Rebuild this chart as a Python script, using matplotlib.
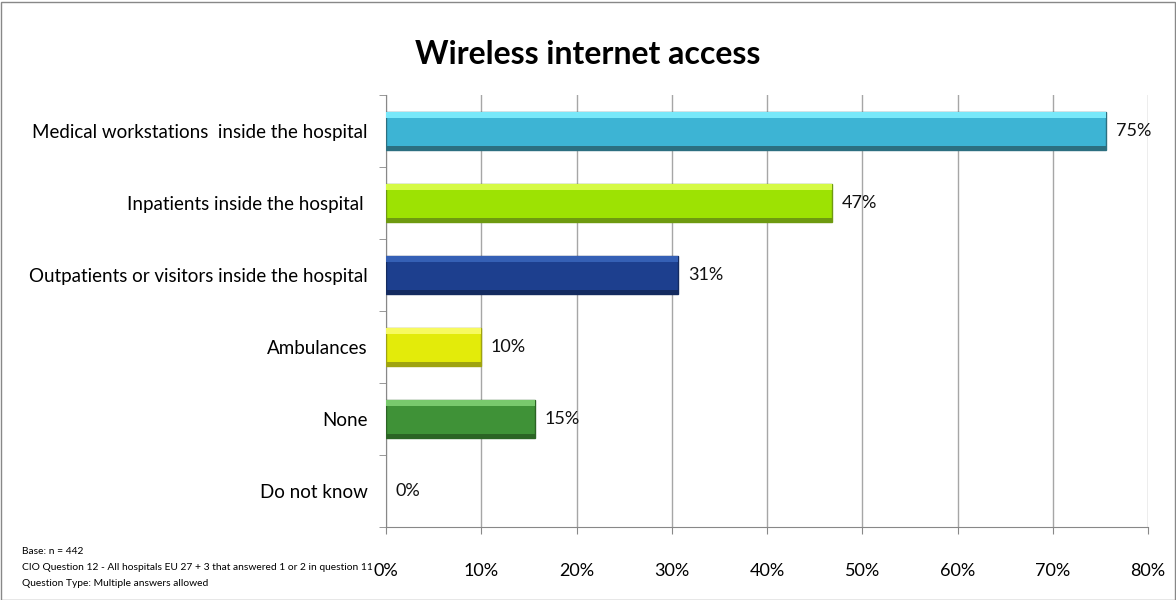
import numpy as np
import matplotlib.pyplot as plt
from matplotlib.patches import Rectangle

categories = ['Medical workstations  inside the hospital',
              'Inpatients inside the hospital ',
              'Outpatients or visitors inside the hospital',
              'Ambulances',
              'None',
              'Do not know']
values = [75.6, 46.8, 30.7, 10.0, 15.6, 0.0]
value_labels = ['75%', '47%', '31%', '10%', '15%', '0%']
colors = ['#3DB4D4', '#9DE203', '#1D3F8E', '#E3EB0A', '#3F9237', '#888888']
tops = ['#78E8FA', '#D5FA45', '#3560B5', '#F7FA60', '#78C96C', '#aaaaaa']
bottoms = ['#2C6F80', '#6E9A10', '#142B60', '#9FA310', '#2B6424', '#555555']
xticks = np.arange(0, 81, 10)

plt.rcParams['font.family'] = ['Lato', 'DejaVu Sans']

fig = plt.figure(figsize=(11.76, 6.0), dpi=100)
ax = fig.add_axes([386 / 1176, 1 - 527 / 600, (1148 - 386) / 1176, (527 - 95) / 600])

y = np.arange(len(categories))
h = 0.53
edges = [b if v > 0 else 'none' for v, b in zip(values, bottoms)]
ax.barh(y, values, height=h, color=colors, edgecolor=edges, linewidth=1, zorder=3)
# lighter top strip and darker bottom strip to mimic the bevel
ax.barh(y - h / 2 + 0.04, values, height=0.08, color=tops, linewidth=0, zorder=4)
ax.barh(y + h / 2 - 0.03, values, height=0.06, color=bottoms, linewidth=0, zorder=4)

for yi, v, lab in zip(y, values, value_labels):
    ax.text(v + 1.0, yi, lab, va='center', ha='left', fontsize=13, color='#111111')

ax.set_xlim(0, 80)
ax.set_ylim(len(categories) - 0.5, -0.5)
ax.set_xticks(xticks)
ax.set_xticklabels(['%d%%' % t for t in xticks], fontsize=13)
ax.tick_params(axis='x', length=5, color='#888888', pad=21)
ax.set_yticks(y)
ax.set_yticklabels(categories, fontsize=13.5)
ax.tick_params(axis='y', length=0, pad=13)
ax.set_yticks(np.arange(-0.5, len(categories), 1), minor=True)
ax.tick_params(axis='y', which='minor', length=5, color='#888888')
ax.grid(axis='x', color='#A6A6A6', linewidth=1, zorder=0)
for s in ['top', 'right']:
    ax.spines[s].set_visible(False)
for s in ['left', 'bottom']:
    ax.spines[s].set_color('#888888')

fig.text(0.5, 1 - 55 / 600, 'Wireless internet access', ha='center', va='center',
         fontsize=23, fontweight='bold')

notes = ['Base: n = 442',
         'CIO Question 12 - All hospitals EU 27 + 3 that answered 1 or 2 in question 11',
         'Question Type: Multiple answers allowed']
for i, n in enumerate(notes):
    fig.text(22 / 1176, 1 - (552 + 16 * i) / 600, n, ha='left', va='center', fontsize=7.4)

fig.patches.append(Rectangle((0.5 / 1176, 0.5 / 600), 1 - 2 / 1176, 1 - 2 / 600,
                             transform=fig.transFigure, fill=False,
                             edgecolor='#888888', linewidth=1))

fig.savefig('out.png', dpi=100)
